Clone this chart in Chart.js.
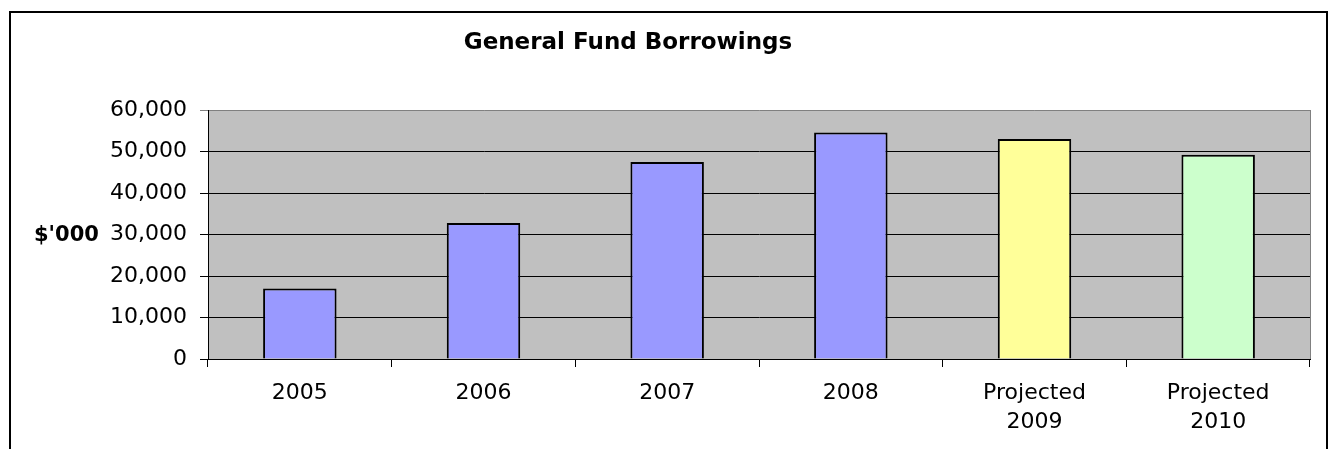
<!DOCTYPE html>
<html>
<head>
<meta charset="utf-8">
<script src="https://cdn.jsdelivr.net/npm/chart.js@4"></script>
<style>
  body { margin: 0; background: #fff; }
  canvas { display: block; }
</style>
</head>
<body>
<canvas id="myChart" width="1332" height="449"></canvas>
<script>
// Borrowings in thousands of dollars
const years = ['2005', '2006', '2007', '2008', ['Projected', '2009'], ['Projected', '2010']];
const borrowings = [17000, 32800, 47500, 54600, 53000, 49200];
const barColors = ['#9999FF', '#9999FF', '#9999FF', '#9999FF', '#FFFF99', '#CCFFCC'];
const yTicks = [0, 10000, 20000, 30000, 40000, 50000, 60000];

const chartTitle = 'General Fund Borrowings';
const unitLabel = "$'000";

// grey plot background, outer frame and the free-standing texts
const frame = {
    id: 'frame',
    beforeDraw(chart) {
        const { ctx, chartArea: a } = chart;
        ctx.save();
        ctx.fillStyle = '#fff';
        ctx.fillRect(0, 0, chart.width, chart.height);
        ctx.fillStyle = '#C0C0C0';
        ctx.fillRect(a.left, a.top, a.right - a.left, a.bottom - a.top);
        ctx.strokeStyle = '#808080';
        ctx.lineWidth = 1;
        ctx.beginPath();
        ctx.moveTo(a.right + 0.5, a.top);
        ctx.lineTo(a.right + 0.5, a.bottom);
        ctx.stroke();
        ctx.restore();
    },
    afterDraw(chart) {
        const { ctx } = chart;
        ctx.save();
        ctx.strokeStyle = '#000';
        ctx.lineWidth = 2;
        ctx.strokeRect(10, 12, 1317, 480);
        ctx.fillStyle = '#000';
        ctx.textAlign = 'center';
        ctx.textBaseline = 'middle';
        ctx.font = 'bold 23px "DejaVu Sans"';
        ctx.fillText(chartTitle, 628, 43);
        ctx.textAlign = 'left';
        ctx.font = 'bold 21px "DejaVu Sans"';
        const y = chart.scales.y.getPixelForValue(30000);
        ctx.fillText(unitLabel, 34, y + 1);
        ctx.restore();
    }
};

const config = {
    type: 'bar',
    data: {
        labels: years,
        datasets: [{
            data: borrowings,
            backgroundColor: barColors,
            borderColor: '#000',
            borderWidth: 2,
            barPercentage: 0.4,
            categoryPercentage: 1
        }]
    },
    options: {
        responsive: false,
        animation: false,
        layout: { padding: { top: 110, right: 22, bottom: 0, left: 0 } },
        plugins: {
            legend: { display: false },
            title: { display: false },
            tooltip: { enabled: false }
        },
        scales: {
            x: {
                offset: true,
                grid: { offset: true, drawOnChartArea: false, tickLength: 8, color: '#000' },
                border: { color: '#000', width: 1 },
                ticks: {
                    color: '#000',
                    padding: 12,
                    maxRotation: 0,
                    font: { family: 'DejaVu Sans', size: 22, lineHeight: 1.3 }
                },
                afterFit(scale) { scale.height = 90; }
            },
            y: {
                min: 0,
                max: 60000,
                afterBuildTicks(scale) { scale.ticks = yTicks.map(v => ({ value: v })); },
                grid: {
                    tickLength: 8,
                    color: c => (c.tick && c.tick.value === 60000 ? '#808080' : '#000')
                },
                border: { color: '#000', width: 1 },
                ticks: {
                    color: '#000',
                    padding: 13,
                    font: { family: 'DejaVu Sans', size: 22 },
                    callback: v => v.toLocaleString('en-US')
                },
                afterFit(scale) { scale.width = 208; }
            }
        }
    },
    plugins: [frame]
};

new Chart(document.getElementById('myChart'), config);
</script>
</body>
</html>
